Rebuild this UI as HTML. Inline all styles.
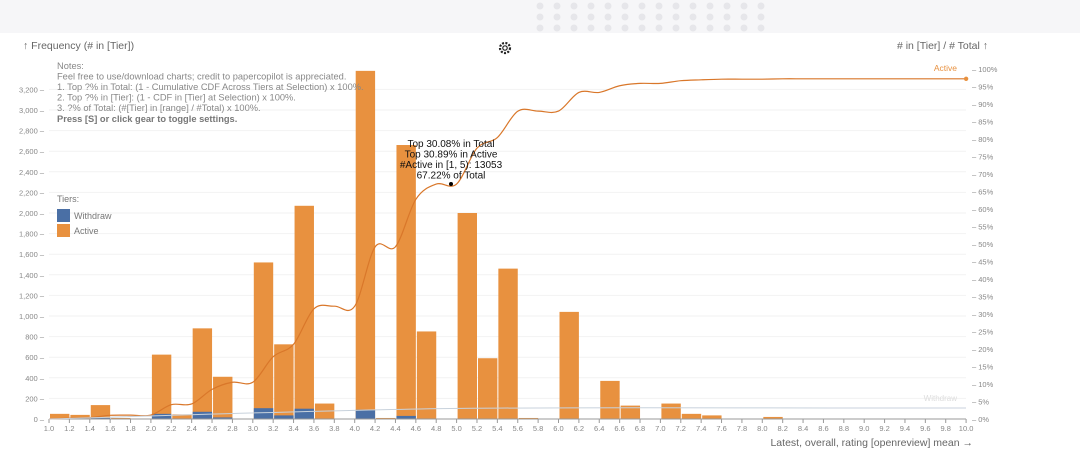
<!DOCTYPE html><html><head><meta charset="utf-8"><style>
body{margin:0;width:1080px;height:458px;background:#fff;overflow:hidden;font-family:"Liberation Sans",sans-serif}
</style></head><body>
<svg id="s" width="1080" height="458" xmlns="http://www.w3.org/2000/svg" font-family="Liberation Sans, sans-serif"></svg>
<script>
const s=document.getElementById('s');let h='';
h+='<rect x="0" y="0" width="1080" height="33" fill="#f6f6f8"/>';
for(let i=0;i<14;i++)for(let j=0;j<3;j++)h+=`<circle cx="${540+i*17}" cy="${6+j*11}" r="3.5" fill="#e6e6ea"/>`;
const X=v=>49+(v-1)*101.9, Y=c=>419-c*0.103, P=p=>419-p*3.5;
for(let c=0;c<=3200;c+=200){h+=`<line x1="49" x2="966" y1="${Y(c)}" y2="${Y(c)}" stroke="#f2f2f2"/>`;
h+=`<text x="44" y="${Y(c)+3}" font-size="7.5" fill="#888" text-anchor="end">${c.toLocaleString('en-US')} –</text>`;}
for(let p=0;p<=100;p+=5)h+=`<text x="972" y="${P(p)+3}" font-size="7.5" fill="#888">– ${p}%</text>`;
const bins=[[1.0,50,5],[1.2,40,5],[1.4,135,10],[1.6,10,0],[1.8,5,0],[2.0,625,50],[2.2,45,5],[2.4,880,70],[2.6,410,15],[3.0,1520,105],[3.2,725,35],[3.4,2070,100],[3.6,150,5],[4.0,3380,90],[4.2,10,0],[4.4,2660,30],[4.6,850,5],[5.0,2000,5],[5.2,590,3],[5.4,1460,3],[5.6,10,0],[6.0,1040,3],[6.4,370,0],[6.6,130,0],[7.0,150,0],[7.2,50,0],[7.4,35,0],[8.0,20,0]];
bins.forEach(b=>{const x=X(b[0])+1,w=19.4;h+=`<rect x="${x}" y="${Y(b[1])}" width="${w}" height="${419-Y(b[1])}" fill="#e8913f"/>`;
if(b[2])h+=`<rect x="${x}" y="${Y(b[2])}" width="${w}" height="${419-Y(b[2])}" fill="#4a6fa5"/>`;});
h+=`<line x1="49" x2="966" y1="419" y2="419" stroke="#999"/>`;
for(let i=0;i<=45;i++){const v=1+i*0.2,x=X(v);h+=`<line x1="${x}" x2="${x}" y1="419" y2="423" stroke="#999"/><text x="${x}" y="431" font-size="7.5" fill="#888" text-anchor="middle">${v.toFixed(1)}</text>`;}
const tot=19420;let pts=[[X(1),P(0)]],cum=0;
const map={};bins.forEach(b=>map[b[0].toFixed(1)]=b);
for(let i=0;i<45;i++){const v=1+i*0.2;const b=map[v.toFixed(1)];if(b)cum+=b[1]-b[2];pts.push([X(v+0.2),P(cum/tot*100)]);}
let d=`M${pts[0][0]},${pts[0][1]}`;
for(let i=0;i<pts.length-1;i++){const p0=pts[Math.max(0,i-1)],p1=pts[i],p2=pts[i+1],p3=pts[Math.min(pts.length-1,i+2)];
d+=` C${p1[0]+(p2[0]-p0[0])/6},${p1[1]+(p2[1]-p0[1])/6} ${p2[0]-(p3[0]-p1[0])/6},${p2[1]-(p3[1]-p1[1])/6} ${p2[0]},${p2[1]}`;}
h+=`<path d="${d}" fill="none" stroke="#d9772a" stroke-width="1.2"/><circle cx="${X(10)}" cy="${pts[pts.length-1][1]}" r="2.2" fill="#e8913f"/>`;
h+=`<path d="M49,419 C150,416 300,411 420,409 S700,408 966,408" fill="none" stroke="#c8d2dc" stroke-width="1"/>`;
h+=`<text x="957" y="71" font-size="8.5" fill="#e8913f" text-anchor="end">Active</text>`;
h+=`<text x="957" y="401" font-size="8" fill="#ddd" text-anchor="end">Withdraw</text>`;
h+=`<text x="23" y="49" font-size="10.5" fill="#666">↑ Frequency (# in [Tier])</text>`;
h+=`<text x="988" y="49" font-size="10.5" fill="#666" text-anchor="end"># in [Tier] / # Total ↑</text>`;
h+=`<text x="973" y="446" font-size="10.5" fill="#666" text-anchor="end">Latest, overall, rating [openreview] mean →</text>`;
const notes=['Notes:','Feel free to use/download charts; credit to papercopilot is appreciated.','1. Top ?% in Total: (1 - Cumulative CDF Across Tiers at Selection) x 100%.','2. Top ?% in [Tier]: (1 - CDF in [Tier] at Selection) x 100%.','3. ?% of Total: (#[Tier] in [range] / #Total) x 100%.'];
notes.forEach((t,i)=>h+=`<text x="57" y="${69+i*10.5}" font-size="9.3" fill="#888">${t}</text>`);
h+=`<text x="57" y="122" font-size="9.3" fill="#777" font-weight="bold">Press [S] or click gear to toggle settings.</text>`;
h+=`<text x="57" y="202" font-size="9" fill="#777">Tiers:</text><rect x="57" y="209" width="13" height="13" fill="#4a6fa5"/><text x="74" y="219" font-size="9" fill="#777">Withdraw</text><rect x="57" y="224" width="13" height="13" fill="#e8913f"/><text x="74" y="234" font-size="9" fill="#777">Active</text>`;
['Top 30.08% in Total','Top 30.89% in Active','#Active in [1, 5): 13053','67.22% of Total'].forEach((t,i)=>h+=`<text x="451" y="${147+i*10.5}" font-size="10" fill="#111" text-anchor="middle">${t}</text>`);
h+=`<circle cx="451" cy="184" r="2" fill="#000"/>`;
h+=`<circle cx="505" cy="48" r="5" fill="none" stroke="#222" stroke-width="2.2" stroke-dasharray="2 1.4"/><circle cx="505" cy="48" r="2.2" fill="none" stroke="#222" stroke-width="1.2"/>`;
s.innerHTML=h;
</script></body></html>
